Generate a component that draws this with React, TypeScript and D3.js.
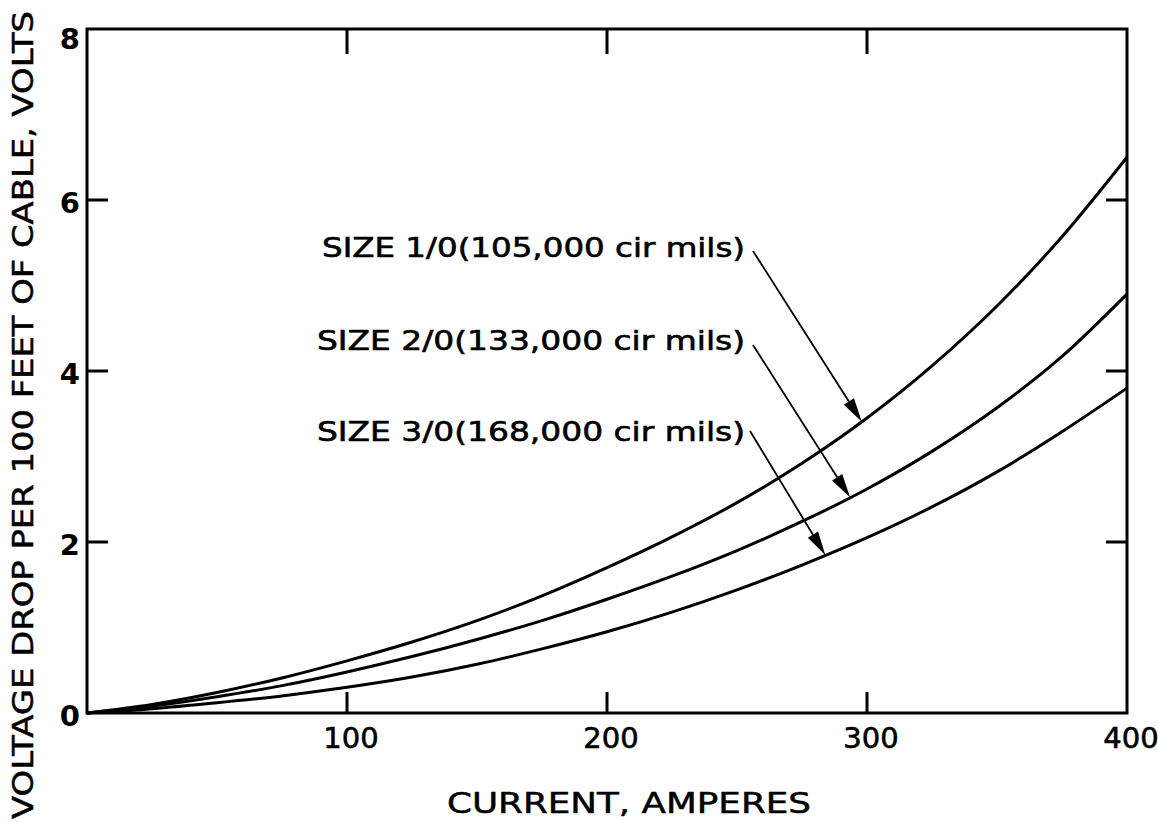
import React from "react";
import * as d3 from "d3";

// Current through the cable, amperes
const currents = [0, 25, 50, 75, 100, 125, 150, 175, 200, 225, 250, 275, 300, 325, 350, 375, 400];

// Voltage drop per 100 ft of cable, volts
const size10 = [0, 0.1, 0.24, 0.41, 0.61, 0.83, 1.08, 1.37, 1.7, 2.06, 2.46, 2.92, 3.45, 4.06, 4.76, 5.57, 6.5];
const size20 = [0, 0.08, 0.19, 0.32, 0.48, 0.66, 0.86, 1.08, 1.33, 1.6, 1.9, 2.24, 2.62, 3.06, 3.57, 4.17, 4.9];
const size30 = [0, 0.05, 0.12, 0.2, 0.3, 0.42, 0.57, 0.75, 0.95, 1.18, 1.44, 1.73, 2.05, 2.41, 2.82, 3.29, 3.8];

const seriesLabels = [
  "SIZE 1/0(105,000 cir mils)",
  "SIZE 2/0(133,000 cir mils)",
  "SIZE 3/0(168,000 cir mils)",
];
// Current at which each label's arrow meets its curve
const arrowCurrents = [298, 293.5, 284];

const xTicks = [100, 200, 300, 400];
const yTicks = [0, 2, 4, 6, 8];
const xTitle = "CURRENT, AMPERES";
const yTitle = "VOLTAGE DROP PER 100 FEET OF CABLE, VOLTS";

const W = 1158;
const H = 822;
const FONT = "'DejaVu Sans', 'Liberation Sans', Arial, sans-serif";

const x = d3.scaleLinear().domain([0, 400]).range([87, 1127]);
const y = d3.scaleLinear().domain([0, 8]).range([713, 29]);

const line = d3
  .line<number>()
  .x((_, i) => x(currents[i]))
  .y((d) => y(d))
  .curve(d3.curveMonotoneX);

function valueAt(values: number[], c: number) {
  return d3.scaleLinear().domain(currents).range(values)(c);
}

const series = [size10, size20, size30];

// label text placement (left x, baseline y, text width) and leader start point
const labelLayout = [
  { lx: 322, by: 257, w: 423, sx: 753, sy: 251 },
  { lx: 317, by: 350, w: 428, sx: 753, sy: 345 },
  { lx: 317, by: 441, w: 428, sx: 750, sy: 431 },
];

export default function App() {
  const stroke = "#000";
  return (
    <svg
      width={W}
      height={H}
      viewBox={`0 0 ${W} ${H}`}
      style={{ position: "absolute", left: 0, top: 0, background: "#fff" }}
    >
      <rect x={0} y={0} width={W} height={H} fill="#fff" />

      {/* frame */}
      <rect
        x={x(0)}
        y={y(8)}
        width={x(400) - x(0)}
        height={y(0) - y(8)}
        fill="none"
        stroke={stroke}
        strokeWidth={3}
      />

      {/* inner ticks */}
      {[100, 200, 300].map((t) => (
        <g key={"xt" + t}>
          <line x1={x(t)} x2={x(t)} y1={y(0)} y2={y(0) - 21} stroke={stroke} strokeWidth={3} />
          <line x1={x(t)} x2={x(t)} y1={y(8)} y2={y(8) + 25} stroke={stroke} strokeWidth={3} />
        </g>
      ))}
      {[2, 4, 6].map((t) => (
        <g key={"yt" + t}>
          <line x1={x(0)} x2={x(0) + 21} y1={y(t)} y2={y(t)} stroke={stroke} strokeWidth={3} />
          <line x1={x(400)} x2={x(400) - 21} y1={y(t)} y2={y(t)} stroke={stroke} strokeWidth={3} />
        </g>
      ))}

      {/* tick labels */}
      {xTicks.map((t) => (
        <text
          key={"xl" + t}
          x={x(t) + 4}
          y={748}
          textAnchor="middle"
          fontFamily={FONT}
          fontSize={29}
          fill={stroke}
          stroke={stroke}
          strokeWidth={0.6}
        >
          {t}
        </text>
      ))}
      {yTicks.map((t) => (
        <text
          key={"yl" + t}
          x={80}
          y={y(t) + (t === 8 ? 20 : 13)}
          textAnchor="end"
          fontFamily={FONT}
          fontSize={29}
          fontWeight="bold"
          fill={stroke}
        >
          {t}
        </text>
      ))}

      {/* axis titles */}
      <text
        x={629}
        y={813}
        textAnchor="middle"
        fontFamily={FONT}
        fontSize={28}
        textLength={364}
        lengthAdjust="spacingAndGlyphs"
        fill={stroke}
        stroke={stroke}
        strokeWidth={0.5}
      >
        {xTitle}
      </text>
      <text
        transform={`translate(33, 415) rotate(-90)`}
        textAnchor="middle"
        fontFamily={FONT}
        fontSize={28}
        textLength={808}
        lengthAdjust="spacingAndGlyphs"
        fill={stroke}
        stroke={stroke}
        strokeWidth={0.5}
      >
        {yTitle}
      </text>

      {/* curves */}
      {series.map((vals, i) => (
        <path key={"s" + i} d={line(vals) ?? ""} fill="none" stroke={stroke} strokeWidth={3} />
      ))}

      {/* labels with leader arrows */}
      {series.map((vals, i) => {
        const L = labelLayout[i];
        const tx = x(arrowCurrents[i]);
        const ty = y(valueAt(vals, arrowCurrents[i]));
        const ang = Math.atan2(ty - L.sy, tx - L.sx);
        const len = 24;
        const hw = 6;
        const bx = tx - len * Math.cos(ang);
        const by = ty - len * Math.sin(ang);
        const px = -Math.sin(ang) * hw;
        const py = Math.cos(ang) * hw;
        return (
          <g key={"lab" + i}>
            <text
              x={L.lx}
              y={L.by}
              fontFamily={FONT}
              fontSize={26}
              textLength={L.w}
              lengthAdjust="spacingAndGlyphs"
              fill={stroke}
              stroke={stroke}
              strokeWidth={0.6}
            >
              {seriesLabels[i]}
            </text>
            <line x1={L.sx} y1={L.sy} x2={bx} y2={by} stroke={stroke} strokeWidth={1.8} />
            <path
              d={`M${tx},${ty} L${bx + px},${by + py} L${bx - px},${by - py} Z`}
              fill={stroke}
            />
          </g>
        );
      })}
    </svg>
  );
}
